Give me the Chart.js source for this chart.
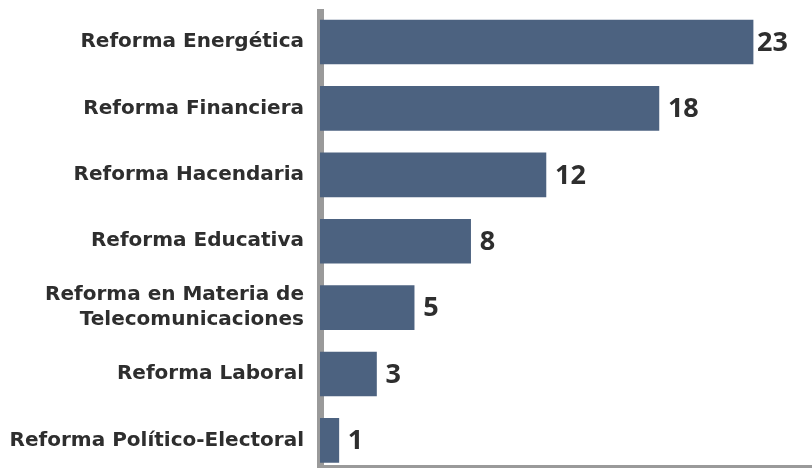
<!DOCTYPE html>
<html>
<head>
<meta charset="utf-8">
<script src="https://cdn.jsdelivr.net/npm/chart.js@4/dist/chart.umd.min.js"></script>
<style>
    html, body { margin: 0; padding: 0; background: #fff; }
    #wrap { width: 812px; height: 468px; position: relative; }
</style>
</head>
<body>
<div id="wrap"><canvas id="chart"></canvas></div>
<script>
const CATEGORIES = [
    'Reforma Energética',
    'Reforma Financiera',
    'Reforma Hacendaria',
    'Reforma Educativa',
    ['Reforma en Materia de', 'Telecomunicaciones'],
    'Reforma Laboral',
    'Reforma Político-Electoral',
];
const VALUES = [23, 18, 12, 8, 5, 3, 1];

const BAR_COLOR  = '#4c6280';
const AXIS_COLOR = '#9a9a9a';
const TEXT_COLOR = '#2e2e2e';
const LABEL_FONT = '"DejaVu Sans", sans-serif';
const VALUE_FONT = '"Open Sans", "DejaVu Sans", sans-serif';

// value labels to the right of each bar
const valueLabels = {
    id : 'valueLabels',
    afterDatasetsDraw(chart) {
        const ctx  = chart.ctx;
        const meta = chart.getDatasetMeta(0);
        ctx.save();
        ctx.font         = `bold 27px ${VALUE_FONT}`;
        ctx.fillStyle    = TEXT_COLOR;
        ctx.textAlign    = 'left';
        ctx.textBaseline = 'middle';
        meta.data.forEach((bar, i) => {
            const txt = String(VALUES[i]);
            const w   = ctx.measureText(txt).width;
            const x   = Math.min(bar.x + 9, chart.width - w - 24);
            ctx.fillText(txt, x, bar.y + 1);
        });
        ctx.restore();
    },
};

new Chart(document.getElementById('chart'), {
    type : 'bar',
    data : {
        datasets : [{
            data            : VALUES.map((v, i) => ({ x: v, y: i })),
            backgroundColor : BAR_COLOR,
            borderWidth     : 0,
            barThickness    : 44,
        }],
    },
    options : {
        indexAxis           : 'y',
        responsive          : true,
        maintainAspectRatio : false,
        animation           : false,
        layout              : { padding: { top: 12, right: 0, bottom: 0, left: 0 } },
        plugins : {
            legend  : { display: false },
            tooltip : { enabled: false },
        },
        scales : {
            x : {
                type   : 'linear',
                bounds : 'data',
                offset : false,
                min    : 0,
                max    : 26.13,
                grid   : { display: false, drawTicks: false },
                border : { display: true, color: AXIS_COLOR, width: 6 },
                ticks  : { display: false },
                afterFit : (scale) => {
                    scale.height = 0;
                    scale.paddingLeft = scale.paddingRight = 0;
                },
            },
            y : {
                type    : 'linear',
                bounds  : 'data',
                offset  : false,
                reverse : true,
                min     : -0.452,
                max     : 6.415,
                grid    : { display: false, drawTicks: false, offset: false },
                border  : { display: true, color: AXIS_COLOR, width: 7 },
                afterBuildTicks : (scale) => {
                    scale.ticks = CATEGORIES.map((c, i) => ({ value: i }));
                },
                afterFit : (scale) => {
                    scale.width = 320;
                    scale.paddingTop = scale.paddingBottom = 0;
                },
                ticks : {
                    autoSkip : false,
                    padding  : 16,
                    color    : TEXT_COLOR,
                    font     : { family: LABEL_FONT, size: 20, weight: 'bold', lineHeight: 1.25 },
                    callback : (v) => CATEGORIES[v],
                },
            },
        },
    },
    plugins : [valueLabels],
});
</script>
</body>
</html>
